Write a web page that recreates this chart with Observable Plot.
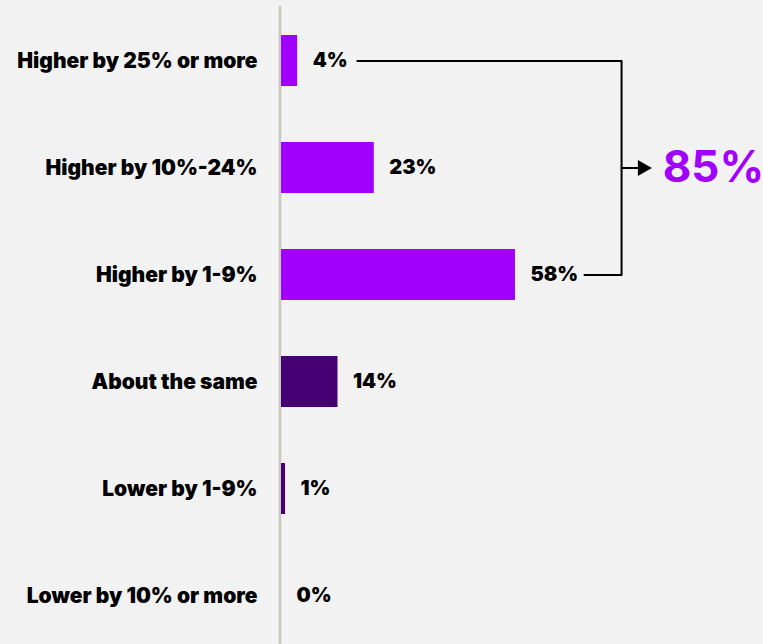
<!DOCTYPE html>
<html>
<head>
<meta charset="utf-8">
<script src="https://cdn.jsdelivr.net/npm/d3@7"></script>
<script src="https://cdn.jsdelivr.net/npm/@observablehq/plot@0.6"></script>
<style>
  html, body { margin: 0; padding: 0; background: #f2f2f2; }
  #chart svg { display: block; }
</style>
</head>
<body>
<div id="chart"></div>
<script>
const categories = [
  "Higher by 25% or more",
  "Higher by 10%-24%",
  "Higher by 1-9%",
  "About the same",
  "Lower by 1-9%",
  "Lower by 10% or more"
];
const values = [4, 23, 58, 14, 1, 0];
const groups = ["higher", "higher", "higher", "same", "lower", "lower"];

const data = categories.map((c, i) => ({category: c, value: values[i], group: groups[i]}));
const higherTotal = d3.sum(data.filter(d => d.group === "higher"), d => d.value);

const purple = "#a100ff";
const dark = "#460073";
const font = "Inter, 'Noto Sans', sans-serif";

const catTop = categories[0], catMid = categories[1], catBot = categories[2];
const bracket = [
  {x: 18.8, y: catTop},
  {x: 84.3, y: catTop},
  {x: 84.3, y: catBot},
  {x: 75.1, y: catBot}
];
const arrowLine = [{x: 84.3, y: catMid}, {x: 88.5, y: catMid}];

const chart = Plot.plot({
  width: 763,
  height: 644,
  marginTop: 6,
  marginBottom: 0,
  marginLeft: 0,
  marginRight: 0,
  style: {background: "#f2f2f2", fontFamily: font, overflow: "visible"},
  x: {domain: [0, 100], range: [281, 281 + 403.4], axis: null},
  y: {domain: categories, range: [6, 650], paddingInner: 0.52, paddingOuter: 0.26, axis: null},
  marks: [
    Plot.ruleX([0], {dx: -1.5, stroke: "#c8c8c0", strokeWidth: 2.5}),
    Plot.barX(data, {
      x: "value", y: "category",
      fill: d => d.group === "higher" ? purple : dark
    }),
    Plot.text(data, {
      x: 0, y: "category", text: "category",
      textAnchor: "end", dx: -24, fontSize: 21, fontWeight: 900, fill: "#000",
      fontFamily: font
    }),
    Plot.text(data, {
      x: "value", y: "category", text: d => `${d.value}%`,
      textAnchor: "start", dx: 15, fontSize: 20, fontWeight: 900, fill: "#000",
      fontFamily: font
    }),
    Plot.line(bracket, {x: "x", y: "y", stroke: "#000", strokeWidth: 2, curve: "linear"}),
    Plot.line(arrowLine, {x: "x", y: "y", stroke: "#000", strokeWidth: 2}),
    Plot.dot([{x: 89.5, y: catMid}], {x: "x", y: "y", symbol: "triangle", rotate: 90, r: 6, fill: "#000", stroke: null}),
    Plot.text([{x: 94.5, y: catMid}], {
      x: "x", y: "y", text: () => `${higherTotal}%`,
      textAnchor: "start", fontSize: 44, fontWeight: 700, fill: purple, fontFamily: font
    })
  ]
});
document.getElementById("chart").appendChild(chart);
</script>
</body>
</html>
